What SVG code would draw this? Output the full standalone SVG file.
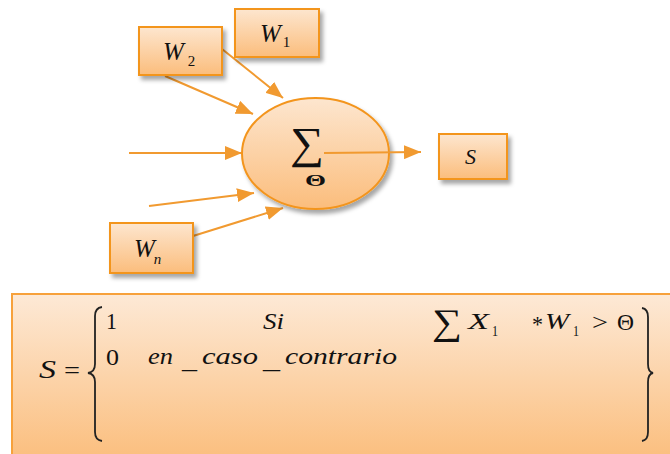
<svg xmlns="http://www.w3.org/2000/svg" width="670" height="454" viewBox="0 0 670 454">
<defs>
<linearGradient id="gBox" x1="0" y1="0" x2="0" y2="1">
<stop offset="0" stop-color="#fde6cf"/>
<stop offset="1" stop-color="#fbbd7c"/>
</linearGradient>
<linearGradient id="gBig" x1="0" y1="0" x2="0" y2="1">
<stop offset="0" stop-color="#fde9d6"/>
<stop offset="1" stop-color="#fbbd7b"/>
</linearGradient>
<filter id="sh" x="-20%" y="-20%" width="150%" height="160%">
<feDropShadow dx="3" dy="4" stdDeviation="2" flood-color="#000" flood-opacity="0.35"/>
</filter>
<marker id="ah" markerUnits="userSpaceOnUse" markerWidth="18" markerHeight="14" refX="17" refY="7" orient="auto">
<path d="M0,0 L17,7 L0,14 Z" fill="#f19a30"/>
</marker>
</defs>
<style>
.box{fill:url(#gBox);stroke:#f3951f;stroke-width:2;filter:url(#sh)}
.con{stroke:#f19a30;stroke-width:2;fill:none;marker-end:url(#ah)}
text{fill:#111}
.i{font-style:italic}
.br{fill:none;stroke:#222;stroke-width:1.8}
</style>

<g id="formula" font-family="'Liberation Serif', 'Times New Roman', serif" font-size="24">
<rect x="12" y="294" width="670" height="170" fill="url(#gBig)" stroke="#f7a13b" stroke-width="2"/>
<text class="i" x="39" y="378" font-size="25" textLength="17" lengthAdjust="spacingAndGlyphs">S</text>
<text x="64" y="378" textLength="16" lengthAdjust="spacingAndGlyphs">=</text>
<path class="br" d="M102,307 Q95,308 95,316 L95,364 Q95,372 88,373 Q95,374 95,382 L95,432 Q95,440 102,441"/>
<text x="106" y="329" textLength="11" lengthAdjust="spacingAndGlyphs">1</text>
<text class="i" x="263" y="329" textLength="21" lengthAdjust="spacingAndGlyphs">Si</text>
<text x="432" y="334" font-size="36" textLength="30" lengthAdjust="spacingAndGlyphs">∑</text>
<text class="i" x="468" y="329" textLength="21" lengthAdjust="spacingAndGlyphs">X</text>
<text x="492" y="336" font-size="15" textLength="6" lengthAdjust="spacingAndGlyphs">1</text>
<text x="532" y="332" textLength="11" lengthAdjust="spacingAndGlyphs">*</text>
<text class="i" x="545" y="329" textLength="24" lengthAdjust="spacingAndGlyphs">W</text>
<text x="573" y="336" font-size="15" textLength="6" lengthAdjust="spacingAndGlyphs">1</text>
<text x="592" y="330" textLength="16" lengthAdjust="spacingAndGlyphs">&gt;</text>
<text x="617" y="330" textLength="17" lengthAdjust="spacingAndGlyphs">Θ</text>
<path class="br" d="M642,308 Q648,309 648,317 L648,364 Q648,372 653,373 Q648,374 648,382 L648,432 Q648,440 642,441"/>
<text x="106" y="365" textLength="13" lengthAdjust="spacingAndGlyphs">0</text>
<text class="i" x="148" y="364" textLength="25" lengthAdjust="spacingAndGlyphs">en</text>
<text x="182" y="368" textLength="15" lengthAdjust="spacingAndGlyphs">_</text>
<text class="i" x="202" y="364" textLength="56" lengthAdjust="spacingAndGlyphs">caso</text>
<text x="263" y="368" textLength="17" lengthAdjust="spacingAndGlyphs">_</text>
<text class="i" x="285" y="364" textLength="112" lengthAdjust="spacingAndGlyphs">contrario</text>
</g>

<g id="connectors">
<line class="con" x1="222" y1="49" x2="283" y2="98"/>
<line class="con" x1="165" y1="76" x2="253" y2="114"/>
<line class="con" x1="129" y1="153" x2="242" y2="153"/>
<line class="con" x1="149" y1="206" x2="254" y2="193"/>
<line class="con" x1="193" y1="236" x2="283" y2="208"/>
</g>

<g id="neuron" font-family="'Liberation Serif', 'Times New Roman', serif">
<ellipse cx="315.5" cy="153.5" rx="73.5" ry="55.5" class="box"/>
<text x="290" y="158" font-size="44" textLength="34" lengthAdjust="spacingAndGlyphs">∑</text>
<text x="305" y="186" font-size="16" font-weight="bold" textLength="21" lengthAdjust="spacingAndGlyphs">Θ</text>
</g>

<g id="out-connector">
<line class="con" x1="324" y1="153" x2="421" y2="152"/>
</g>

<g id="w1" font-family="'Liberation Serif', 'Times New Roman', serif">
<rect x="235" y="9" width="84" height="48" class="box"/>
<text class="i" x="260" y="42" font-size="25">W<tspan font-style="normal" font-size="15" dx="2" dy="5">1</tspan></text>
</g>
<g id="w2" font-family="'Liberation Serif', 'Times New Roman', serif">
<rect x="139" y="27" width="83" height="48" class="box"/>
<text class="i" x="163" y="60" font-size="25">W<tspan font-style="normal" font-size="15" dx="4" dy="6">2</tspan></text>
</g>
<g id="wn" font-family="'Liberation Serif', 'Times New Roman', serif">
<rect x="110" y="223" width="83" height="50" class="box"/>
<text class="i" x="134" y="257" font-size="25">W<tspan font-size="15" dx="-1" dy="7">n</tspan></text>
</g>
<g id="s" font-family="'Liberation Serif', 'Times New Roman', serif">
<rect x="439" y="134" width="68" height="45" class="box"/>
<text class="i" x="465" y="164" font-size="22">S</text>
</g>
</svg>
